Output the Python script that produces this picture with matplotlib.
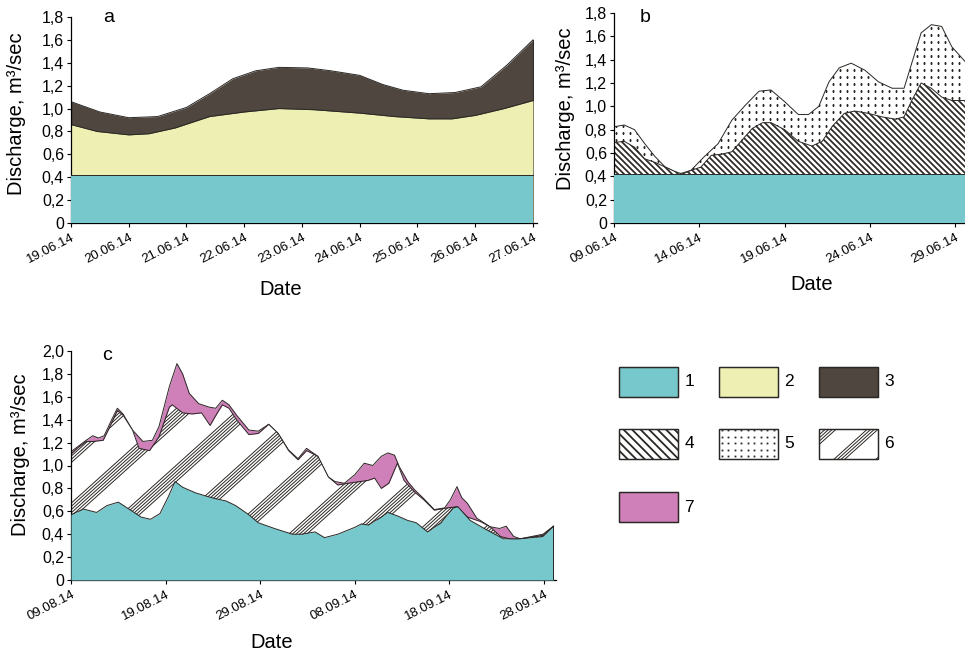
import numpy as np
import matplotlib
matplotlib.use('Agg')
import matplotlib.pyplot as plt
from matplotlib.collections import LineCollection
from matplotlib.lines import Line2D
from matplotlib.patches import Rectangle

plt.rcParams['font.family'] = ['Liberation Sans', 'DejaVu Sans']

# ---- panel a, days from 19.06.14
a_base_day = [0, 8]
a_base = [0.42, 0.42]
a_mid_day = [0, 0.45, 1.0, 1.35, 1.8, 2.4, 3.0, 3.6, 4.2, 5.0, 5.6, 6.2, 6.6, 7.0, 7.5, 8.0]
a_mid = [0.86, 0.80, 0.77, 0.78, 0.83, 0.93, 0.97, 1.00, 0.99, 0.96, 0.93, 0.91, 0.91, 0.94, 1.00, 1.07]
a_top_day = [0, 0.5, 1.0, 1.5, 2.0, 2.4, 2.8, 3.2, 3.6, 4.1, 4.5, 5.0, 5.4, 5.75, 6.2, 6.65, 7.1, 7.55, 8.0]
a_top = [1.06, 0.97, 0.92, 0.93, 1.01, 1.13, 1.26, 1.33, 1.36, 1.355, 1.33, 1.29, 1.21, 1.16, 1.13, 1.14, 1.19, 1.38, 1.60]
a_ticks = [0, 1, 2, 3, 4, 5, 6, 7, 8]
a_dates = ['19.06.14', '20.06.14', '21.06.14', '22.06.14', '23.06.14',
           '24.06.14', '25.06.14', '26.06.14', '27.06.14']

# ---- panel b, days from 09.06.14
b_base_day = [0, 20.6]
b_base = [0.42, 0.42]
b_hat_day = [0, 0.6, 1.2, 1.8, 2.4, 3.0, 3.6, 4.0, 4.5, 5.1, 5.7, 6.3, 6.9, 7.5, 8.1, 8.7, 9.2,
             10.0, 10.8, 11.6, 12.2, 12.8, 13.5, 14.1, 14.9, 15.7, 16.5, 17.0, 17.45, 18.0,
             18.6, 19.2, 19.8, 20.6]
b_hat = [0.69, 0.70, 0.65, 0.55, 0.52, 0.48, 0.44, 0.42, 0.45, 0.48, 0.58, 0.59, 0.61, 0.71,
         0.81, 0.86, 0.86, 0.80, 0.70, 0.66, 0.70, 0.83, 0.94, 0.96, 0.94, 0.91, 0.89, 0.91,
         1.05, 1.20, 1.155, 1.08, 1.05, 1.05]
b_dot_day = [0, 0.6, 1.2, 1.8, 2.4, 3.0, 3.8, 4.5, 5.3, 6.1, 6.9, 7.7, 8.5, 9.2, 10.0, 10.8,
             11.4, 12.0, 12.6, 13.2, 13.9, 14.7, 15.5, 16.3, 17.0, 17.45, 18.0, 18.6, 19.2,
             19.8, 20.6]
b_dot = [0.825, 0.84, 0.80, 0.68, 0.57, 0.48, 0.42, 0.45, 0.57, 0.68, 0.88, 1.01, 1.13, 1.14,
         1.04, 0.93, 0.93, 1.00, 1.21, 1.33, 1.37, 1.31, 1.21, 1.155, 1.155, 1.37, 1.63, 1.70,
         1.685, 1.51, 1.38]
b_ticks = [0, 5, 10, 15, 20]
b_dates = ['09.06.14', '14.06.14', '19.06.14', '24.06.14', '29.06.14']

# ---- panel c, days from 09.08.14
c_cy_day = [0, 1.3, 2.7, 3.8, 5.0, 6.3, 7.4, 8.4, 9.4, 10.3, 11.0, 11.8, 13.2, 14.4, 15.3,
            16.4, 17.4, 18.8, 19.8, 21.5, 23.4, 24.4, 25.8, 26.8, 28.2, 30.0, 30.7, 31.4,
            32.8, 33.5, 34.5, 35.6, 36.5, 37.7, 39.1, 40.4, 40.9, 42.2, 43.9, 45.7, 47.5,
            49.9, 51.0]
c_cy = [0.57, 0.62, 0.59, 0.65, 0.68, 0.61, 0.55, 0.53, 0.58, 0.73, 0.86, 0.81, 0.76, 0.73,
        0.71, 0.69, 0.65, 0.57, 0.50, 0.45, 0.40, 0.40, 0.42, 0.37, 0.40, 0.46, 0.49, 0.48,
        0.55, 0.59, 0.56, 0.52, 0.50, 0.42, 0.50, 0.63, 0.64, 0.52, 0.44, 0.36, 0.36, 0.38,
        0.47]
c_hat_day = [0, 0.8, 1.6, 2.3, 3.4, 4.0, 4.9, 5.5, 6.5, 7.2, 8.3, 9.3, 10.4, 10.7, 11.8,
             12.8, 13.8, 14.7, 15.4, 16.0, 16.7, 17.5, 18.8, 19.8, 20.9, 21.9, 23.0, 24.0,
             24.9, 26.1, 27.2, 28.2, 29.3, 31.4, 32.1, 32.8, 33.6, 34.5, 35.2, 36.3, 37.3,
             38.4, 39.8, 40.8, 41.9, 43.3, 44.3, 45.4, 46.8, 47.5, 49.9, 51.0]
c_hat = [1.10, 1.16, 1.21, 1.21, 1.22, 1.32, 1.48, 1.44, 1.31, 1.15, 1.13, 1.25, 1.51, 1.53,
         1.46, 1.45, 1.46, 1.35, 1.45, 1.53, 1.50, 1.40, 1.27, 1.28, 1.36, 1.28, 1.13, 1.05,
         1.13, 1.08, 0.90, 0.83, 0.845, 0.87, 0.89, 0.80, 0.845, 1.02, 0.87, 0.77, 0.70,
         0.61, 0.63, 0.64, 0.55, 0.51, 0.465, 0.38, 0.35, 0.36, 0.39, 0.47]
c_tot_day = [0, 0.8, 1.6, 2.3, 2.9, 3.5, 4.3, 4.9, 5.5, 6.5, 7.6, 8.6, 9.3, 10.4, 11.2, 11.8,
             12.5, 13.5, 14.6, 15.3, 16.0, 16.7, 17.5, 18.8, 19.8, 20.9, 21.9, 23.0, 24.0,
             24.9, 26.1, 27.2, 27.9, 28.9, 30.0, 31.0, 31.9, 32.8, 33.5, 34.2, 34.7, 35.6,
             36.3, 37.3, 38.4, 39.5, 40.1, 40.8, 41.3, 41.9, 42.9, 44.3, 45.3, 46.0, 46.8,
             47.5, 49.9, 51.0]
c_tot = [1.12, 1.17, 1.22, 1.26, 1.24, 1.26, 1.40, 1.50, 1.45, 1.31, 1.21, 1.22, 1.34, 1.69,
         1.89, 1.80, 1.63, 1.54, 1.51, 1.50, 1.57, 1.53, 1.44, 1.31, 1.30, 1.36, 1.28, 1.135,
         1.06, 1.15, 1.08, 0.90, 0.86, 0.845, 0.92, 1.02, 1.00, 1.08, 1.11, 1.09, 0.99, 0.86,
         0.79, 0.71, 0.615, 0.63, 0.70, 0.815, 0.72, 0.67, 0.54, 0.465, 0.45, 0.47, 0.38,
         0.36, 0.40, 0.47]
c_ticks = [0, 10, 20, 30, 40, 50]
c_dates = ['09.08.14', '19.08.14', '29.08.14', '08.09.14', '18.09.14', '28.09.14']

y18 = [0, 0.2, 0.4, 0.6, 0.8, 1.0, 1.2, 1.4, 1.6, 1.8]
y18_lab = ['0', '0,2', '0,4', '0,6', '0,8', '1,0', '1,2', '1,4', '1,6', '1,8']
y20 = [0, 0.2, 0.4, 0.6, 0.8, 1.0, 1.2, 1.4, 1.6, 1.8, 2.0]
y20_lab = ['0', '0,2', '0,4', '0,6', '0,8', '1,0', '1,2', '1,4', '1,6', '1,8', '2,0']

legend_labels = ['1', '2', '3', '4', '5', '6', '7']

CYAN = '#76c8cc'
YELLOW = '#eef0b3'
DARK = '#4e463f'
PINK = '#cf80b9'
LINE = '#2a2724'

W, H = 9.65, 6.51
fig = plt.figure(figsize=(W, H), dpi=100)


def px_axes(l, t, r, b):
    return fig.add_axes([l / 965, 1 - b / 651, (r - l) / 965, (b - t) / 651])


def style(ax, xt, xtl, yt, ytl, xmax):
    ax.set_xlim(0, xmax)
    ax.set_ylim(0, yt[-1])
    ax.spines[['top', 'right']].set_visible(False)
    for s in ('left', 'bottom'):
        ax.spines[s].set_linewidth(0.9)
    ax.set_xticks(xt)
    ax.set_xticklabels(xtl, rotation=27, ha='right', rotation_mode='anchor', fontsize=9.5)
    ax.set_yticks(yt)
    ax.set_yticklabels(ytl, fontsize=11.5)
    ax.tick_params(length=3, width=0.8)
    ax.tick_params(axis='y', pad=2)
    ax.tick_params(axis='x', pad=3)
    ax.set_facecolor('none')


def layer(ax, x, y, z, close=False, **kw):
    poly = ax.fill_between(x, 0, y, linewidth=0, zorder=z, **kw)
    ax.plot(x, y, color=LINE, lw=0.7, zorder=z + 0.3)
    if close:
        ax.plot([x[-1], x[-1]], [0, y[-1]], color=LINE, lw=0.7, zorder=z + 0.3)
    return poly


def clip_to(art, ax, poly):
    if isinstance(poly, Rectangle):
        art.set_clip_path(poly)
    else:
        art.set_clip_path(poly.get_paths()[0], ax.transData)


def line_hatch(ax, poly, period, angle, lw, n=1, step=0.0, z=2.2):
    # diagonal lines (inch space), optionally in groups of n
    run = H / np.tan(np.radians(angle))
    segs = []
    for k in np.arange(-abs(run) - period, W + abs(run) + period, period):
        for j in range(n):
            x0 = k + j * step
            segs.append([(x0, 0), (x0 + run, H)])
    lc = LineCollection(segs, colors=LINE, linewidths=lw,
                        transform=fig.dpi_scale_trans, zorder=z)
    ax.add_collection(lc, autolim=False)
    clip_to(lc, ax, poly)


def dot_hatch(ax, poly, step, ms, z=1.2):
    gx, gy = np.meshgrid(np.arange(0, W, step), np.arange(0, H, step))
    ln = Line2D(gx.ravel(), gy.ravel(), ls='none', marker='s', ms=ms, mfc=LINE,
                mec='none', transform=fig.dpi_scale_trans, zorder=z)
    ax.add_artist(ln)
    clip_to(ln, ax, poly)


# ---- a
ax_a = px_axes(71, 17, 537, 223)
layer(ax_a, a_top_day, a_top, 1, close=True, color=DARK)
layer(ax_a, a_mid_day, a_mid, 2, color=YELLOW)
layer(ax_a, a_base_day, a_base, 3, color=CYAN)
style(ax_a, a_ticks, a_dates, y18, y18_lab, 8.07)

# ---- b
ax_b = px_axes(614, 13, 965, 223)
p5 = layer(ax_b, b_dot_day, b_dot, 1, color='white')
dot_hatch(ax_b, p5, 0.07, 1.4)
p4 = layer(ax_b, b_hat_day, b_hat, 2, color='white')
line_hatch(ax_b, p4, 0.06, 135, 1.25)
layer(ax_b, b_base_day, b_base, 3, color=CYAN)
style(ax_b, b_ticks, b_dates, y18, y18_lab, 20.57)

# ---- c
ax_c = px_axes(71, 351, 556, 580)
layer(ax_c, c_tot_day, c_tot, 1, color=PINK)
p6 = layer(ax_c, c_hat_day, c_hat, 2, color='white')
line_hatch(ax_c, p6, 0.63, 42, 0.7, n=6, step=0.036)
layer(ax_c, c_cy_day, c_cy, 3, close=True, color=CYAN)
style(ax_c, c_ticks, c_dates, y20, y20_lab, 51.27)

# axis titles and panel letters
for ax, lx, ly, dx, dy in [(ax_a, -0.116, 0.53, 0.45, -0.325),
                           (ax_b, -0.137, 0.543, 0.564, -0.295),
                           (ax_c, -0.105, 0.546, 0.414, -0.271)]:
    ax.set_ylabel('Discharge, m³/sec', fontsize=14.5)
    ax.yaxis.set_label_coords(lx, ly)
    ax.yaxis.label.set_va('center')
    ax.set_xlabel('Date', fontsize=14.5)
    ax.xaxis.set_label_coords(dx, dy)
    ax.xaxis.label.set_va('center')

for txt, x, y in [('a', 109, 17), ('b', 645, 17), ('c', 107, 355)]:
    fig.text(x / 965, 1 - y / 651, txt, fontsize=14, ha='center', va='center')

# ---- legend
lax = fig.add_axes([0, 0, 1, 1])
lax.set_xlim(0, 965)
lax.set_ylim(651, 0)
lax.axis('off')
col_x = [619, 719, 819]
row_y = [367, 429, 492]
faces = [CYAN, YELLOW, DARK, 'white', 'white', 'white', PINK]
for i, lab in enumerate(legend_labels):
    x0, y0 = col_x[i % 3], row_y[i // 3]
    r = Rectangle((x0, y0), 59, 30, facecolor=faces[i], edgecolor=LINE, lw=0.9, zorder=2)
    lax.add_patch(r)
    if lab == '4':
        line_hatch(lax, r, 0.085, 135, 1.3, z=2.5)
    elif lab == '5':
        dot_hatch(lax, r, 0.065, 1.3, z=2.5)
    elif lab == '6':
        line_hatch(lax, r, 0.42, 42, 0.7, n=4, step=0.036, z=2.5)
    lax.add_patch(Rectangle((x0, y0), 59, 30, facecolor='none', edgecolor=LINE, lw=0.9, zorder=3))
    lax.text(x0 + 70, y0 + 15, lab, fontsize=12.5, ha='center', va='center')

fig.savefig('out.png', dpi=100)
